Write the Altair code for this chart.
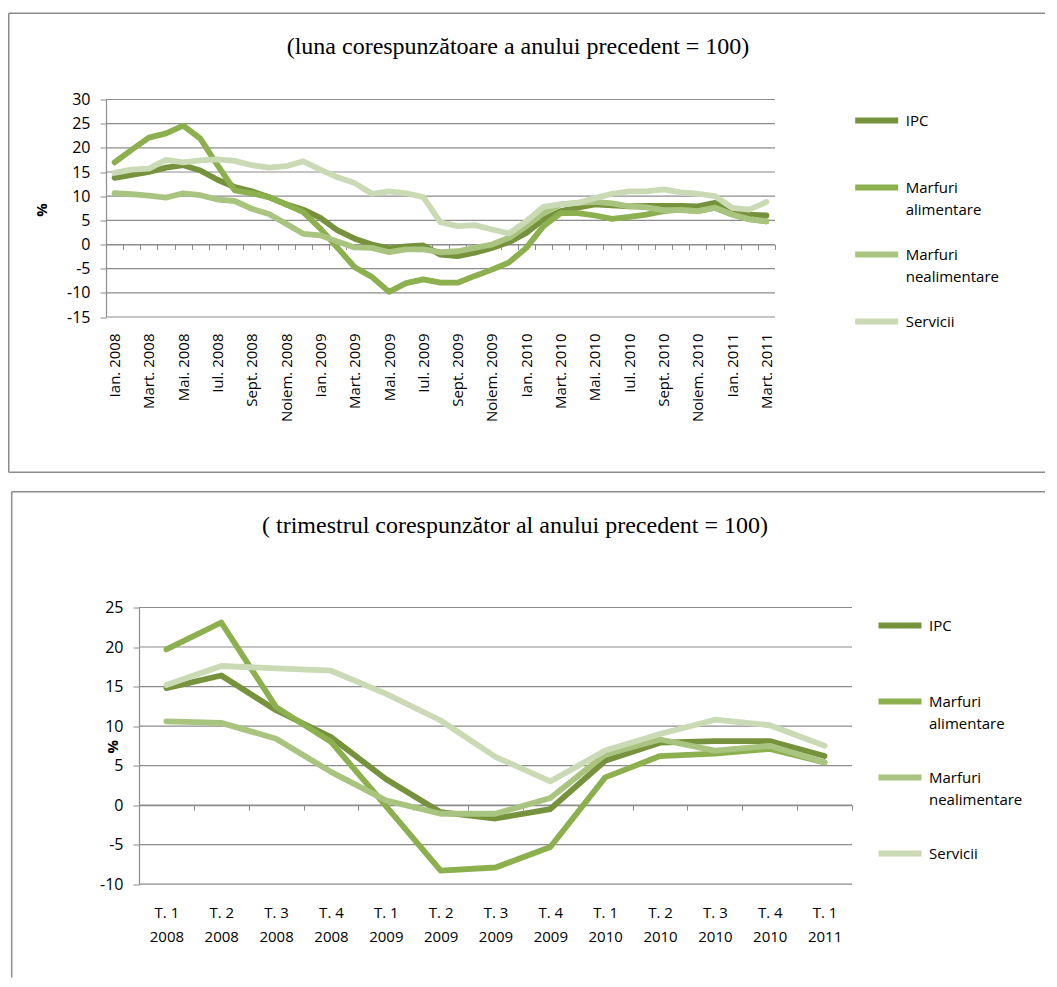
import altair as alt
import pandas as pd

series = ["IPC", "Marfuri alimentare", "Marfuri nealimentare", "Servicii"]
colors = ["#76923C", "#8DB04F", "#A9C47F", "#C9DAB4"]

month_names = ["Ian.", "Febr.", "Mart.", "Apr.", "Mai.", "Iun.", "Iul.", "Aug.",
               "Sept.", "Oct.", "Noiem.", "Dec."]
months = [f"{m} {y}" for y in (2008, 2009, 2010) for m in month_names] + \
         ["Ian. 2011", "Febr. 2011", "Mart. 2011"]

ipc_m = [13.8, 14.4, 15.0, 15.9, 16.4, 15.3, 13.4, 11.9, 11.0, 9.8,
         8.3, 7.2, 5.5, 2.9, 1.2, 0.0, -0.8, -0.4, -0.2, -2.1,
         -2.4, -1.7, -0.7, 0.5, 2.4, 5.2, 6.9, 7.6, 8.3, 8.1,
         7.9, 8.0, 8.0, 8.0, 7.9, 8.6, 6.9, 6.2, 6.0]
food_m = [17.0, 19.6, 22.1, 23.0, 24.6, 21.9, 16.4, 11.2, 10.6, 9.8,
          8.3, 6.7, 3.3, -0.7, -4.7, -6.7, -9.8, -8.0, -7.2, -7.9,
          -7.9, -6.5, -5.2, -3.7, -0.7, 3.8, 6.5, 6.5, 6.0, 5.3,
          5.7, 6.2, 6.9, 7.2, 6.9, 7.6, 6.2, 5.3, 4.8]
nonfood_m = [10.6, 10.4, 10.1, 9.7, 10.6, 10.2, 9.3, 9.0, 7.4, 6.3,
             4.3, 2.2, 1.9, 0.6, -0.6, -0.7, -1.6, -1.0, -1.0, -1.6,
             -1.4, -0.7, 0.0, 1.4, 3.8, 6.5, 8.3, 8.6, 8.8, 8.5,
             7.9, 7.7, 7.1, 7.1, 6.9, 7.6, 6.2, 5.2, 4.8]
serv_m = [14.8, 15.5, 15.7, 17.5, 17.0, 17.4, 17.6, 17.3, 16.4, 15.9,
          16.2, 17.2, 15.5, 13.9, 12.7, 10.5, 11.0, 10.6, 9.8, 4.6,
          3.8, 4.0, 3.1, 2.3, 4.8, 7.8, 8.3, 8.6, 9.6, 10.5,
          11.0, 11.0, 11.4, 10.8, 10.5, 10.0, 7.6, 7.2, 8.8]

quarters = ["T. 1|2008", "T. 2|2008", "T. 3|2008", "T. 4|2008",
            "T. 1|2009", "T. 2|2009", "T. 3|2009", "T. 4|2009",
            "T. 1|2010", "T. 2|2010", "T. 3|2010", "T. 4|2010",
            "T. 1|2011"]
ipc_q = [14.8, 16.4, 12.0, 8.6, 3.3, -0.9, -1.7, -0.5, 5.6, 7.9, 8.1, 8.1, 6.2]
food_q = [19.7, 23.1, 12.4, 8.0, -0.1, -8.3, -7.9, -5.3, 3.5, 6.2, 6.5, 7.1, 5.4]
nonfood_q = [10.6, 10.4, 8.4, 4.2, 0.6, -1.1, -1.1, 0.9, 6.4, 8.3, 6.9, 7.5, 5.4]
serv_q = [15.2, 17.6, 17.3, 17.0, 14.1, 10.7, 6.1, 3.0, 6.9, 9.0, 10.8, 10.1, 7.5]

ticks_top = list(range(-15, 31, 5))
ticks_bot = list(range(-10, 26, 5))

title_top = "(luna corespunzătoare a anului precedent = 100)"
title_bot = "( trimestrul corespunzător al anului precedent = 100)"
y_title = "%"


def long_df(cats, lists):
    rows = []
    for name, vals in zip(series, lists):
        for c, v in zip(cats, vals):
            rows.append({"c": c, "s": name, "v": v})
    return pd.DataFrame(rows)


df_m = long_df(months, [ipc_m, food_m, nonfood_m, serv_m])
df_q = long_df(quarters, [ipc_q, food_q, nonfood_q, serv_q])

GRAY = "#8C8C8C"
FONT = "Open Sans"
color_scale = alt.Scale(domain=series, range=colors)

legend_expr = ("datum.label == 'IPC' || datum.label == 'Servicii' ? [datum.label, ''] : "
               "split(datum.label, ' ')")
ylab_expr = "'' + datum.value"


def make_legend(lx, ly, pad):
    return alt.Legend(title=None, orient="none", legendX=lx, legendY=ly,
                      direction="vertical", symbolType="stroke", symbolSize=1850,
                      symbolStrokeWidth=6, labelFont=FONT, labelFontSize=15,
                      labelColor="black", rowPadding=pad, labelOffset=4,
                      labelExpr=legend_expr, labelBaseline="middle", padding=0,
                      labelLimit=300)


def panel(df, cats, xrange, ydom, ticks, xaxis, yaxis, legend, gx0, gx1):
    yscale = alt.Scale(domain=ydom, nice=False, zero=False)
    layers = []
    for i, name in enumerate(series):
        enc = dict(
            x=alt.X("c:N", sort=cats,
                    scale=alt.Scale(type="band", paddingInner=0, paddingOuter=0,
                                    range=xrange),
                    bandPosition=0.5, axis=xaxis),
            y=alt.Y("v:Q", scale=yscale, axis=yaxis),
            color=alt.Color("s:N", scale=color_scale,
                            legend=legend if i == 0 else None),
        )
        layers.append(
            alt.Chart(df).transform_filter(alt.datum.s == name)
            .mark_line(strokeWidth=5.8, strokeJoin="round", strokeCap="round")
            .encode(**enc)
        )
    grid = alt.Chart(pd.DataFrame({"g": ticks})).mark_rule(
        color=GRAY, strokeWidth=1.2).encode(
        y=alt.Y("g:Q", scale=yscale, axis=yaxis), x=alt.value(gx0), x2=alt.value(gx1))
    return [grid] + layers


one = pd.DataFrame({"k": [0]})
fr = dict(color=GRAY, strokeWidth=1.5)

# ---------------- top panel (origin shared with bottom panel) ----------------
W1, H1 = 636, 217.5
X0 = -33
off1 = -H1 * 15 / 45
xaxis1 = alt.Axis(title=None, offset=off1, domainColor=GRAY, domainWidth=1.2,
                  tickColor=GRAY, tickSize=5, tickBand="extent", grid=False,
                  labelAngle=270, labelFont=FONT, labelFontSize=15, labelColor="black",
                  labelPadding=-off1 + 11, labelOverlap=False,
                  labelExpr="indexof(['Febr','Apr','Iun','Aug','Oct','Dec'], split(datum.label, '.')[0]) >= 0 ? '' : datum.label")
yaxis1 = alt.Axis(values=ticks_top, title=None, offset=-X0, grid=False,
                  domainColor=GRAY, domainWidth=1.2, tickColor=GRAY, tickSize=6,
                  labelFont=FONT, labelFontSize=16, labelColor="black",
                  labelPadding=10, labelExpr=ylab_expr)
top_lines = panel(df_m, months, [X0, W1], [-15, 30], ticks_top, xaxis1, yaxis1,
                  make_legend(712.7, -4, 12), X0, W1)

t1 = alt.Chart(pd.DataFrame({"t": [title_top]})).mark_text(
    font="Liberation Serif", fontSize=24, align="center", baseline="middle",
    color="black").encode(x=alt.value(379), y=alt.value(-52.5), text="t:N")
p1 = alt.Chart(pd.DataFrame({"t": [y_title]})).mark_text(
    font=FONT, fontSize=15, fontWeight="bold", angle=270, align="center",
    baseline="middle", color="black").encode(x=alt.value(-97), y=alt.value(110.5), text="t:N")
f1a = alt.Chart(one).mark_rule(**fr).encode(x=alt.value(-130.25), x2=alt.value(906), y=alt.value(-86.2))
f1b = alt.Chart(one).mark_rule(**fr).encode(x=alt.value(-130.25), y=alt.value(-86.2), y2=alt.value(372.8))
f1c = alt.Chart(one).mark_rule(**fr).encode(x=alt.value(-130.25), x2=alt.value(906), y=alt.value(372.8))

top = alt.layer(*top_lines, f1a, f1b, f1c, t1, p1).properties(width=W1, height=H1)

# ---------------- bottom panel ----------------
W2, H2 = 713, 276.6
off2 = -H2 * 10 / 35
xaxis2 = alt.Axis(title=None, offset=off2, domainColor=GRAY, domainWidth=1.2,
                  tickColor=GRAY, tickSize=5, tickBand="extent", grid=False,
                  labelAngle=0, labelFont=FONT, labelFontSize=15, labelColor="black",
                  labelPadding=-off2 + 16, labelOverlap=False, labelLineHeight=24,
                  labelBaseline="top",
                  labelExpr="split(datum.label, '|')")
yaxis2 = alt.Axis(values=ticks_bot, title=None, grid=False,
                  domainColor=GRAY, domainWidth=1.2, tickColor=GRAY, tickSize=6,
                  labelFont=FONT, labelFontSize=16, labelColor="black",
                  labelPadding=10, labelExpr=ylab_expr)
bot_lines = panel(df_q, quarters, [0, W2], [-10, 25], ticks_bot, xaxis2, yaxis2,
                  make_legend(736, -7, 21), 0, W2)

t2 = alt.Chart(pd.DataFrame({"t": [title_bot]})).mark_text(
    font="Liberation Serif", fontSize=24, align="center", baseline="middle",
    color="black").encode(x=alt.value(376), y=alt.value(-81.7), text="t:N")
p2 = alt.Chart(pd.DataFrame({"t": [y_title]})).mark_text(
    font=FONT, fontSize=15, fontWeight="bold", angle=270, align="center",
    baseline="middle", color="black").encode(x=alt.value(-26), y=alt.value(139.3), text="t:N")
f2a = alt.Chart(one).mark_rule(**fr).encode(x=alt.value(-127.3), x2=alt.value(906), y=alt.value(-115.7))
f2b = alt.Chart(one).mark_rule(**fr).encode(x=alt.value(-127.3), y=alt.value(-115.7), y2=alt.value(370))

bottom = alt.layer(*bot_lines, f2a, f2b, t2, p2).properties(width=W2, height=H2)

chart = alt.concat(top, bottom, columns=1, spacing=17).resolve_scale(
    color="independent", x="independent", y="independent"
).resolve_legend(color="independent").properties(
    padding={"left": 0, "top": 4.5, "right": 0, "bottom": 0},
    background="white",
).configure(style={"guide-label": {"lineHeight": 22}}).configure_view(stroke=None)

chart.save("out.html", embed_options={"renderer": "svg", "actions": False})
